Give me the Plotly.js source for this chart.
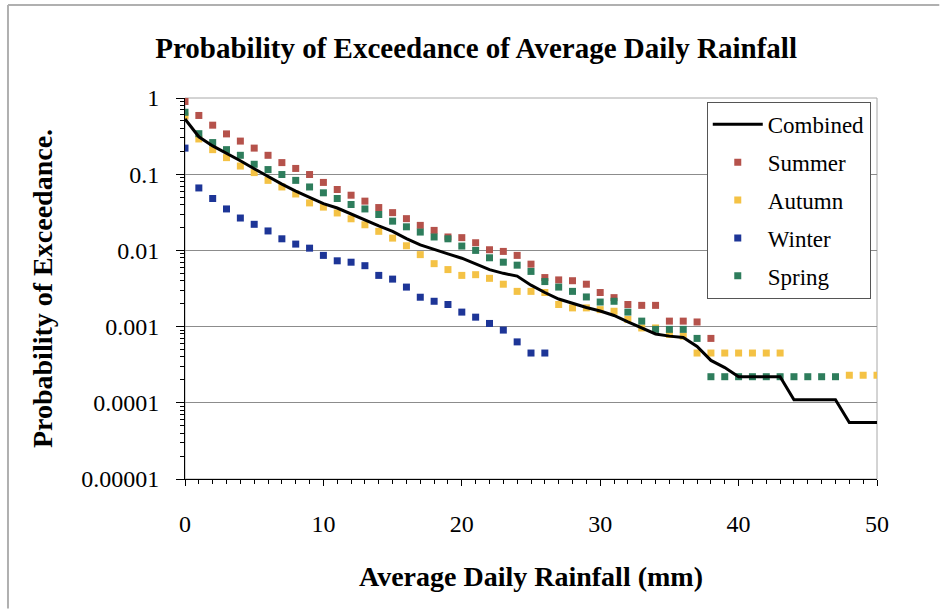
<!DOCTYPE html>
<html>
<head>
<meta charset="utf-8">
<script src="https://cdn.plot.ly/plotly-3.0.1.min.js"></script>
<style>html,body{margin:0;padding:0;background:#fff;}#chart{width:941px;height:612px;}</style>
</head>
<body>
<div id="chart"></div>
<script>
// Average daily rainfall (mm)
var rainfallMm = [0,1,2,3,4,5,6,7,8,9,10,11,12,13,14,15,16,17,18,19,20,21,22,23,24,25,26,27,28,29,30,31,32,33,34,35,36,37,38,39,40,41,42,43,44,45,46,47,48,49,50];

var combinedP = [0.53,0.31,0.235,0.19,0.15,0.118,0.093,0.074,0.06,0.049,0.041,0.036,0.030,0.025,0.021,0.0178,0.0143,0.0118,0.0102,0.0090,0.0079,0.0067,0.0056,0.0050,0.0046,0.0035,0.0028,0.0023,0.0020,0.00178,0.0016,0.0014,0.00115,0.00097,0.0008,0.00075,0.00072,0.00055,0.00036,0.00029,0.00022,0.00022,0.00022,0.00022,0.00011,0.00011,0.00011,0.00011,0.000055,0.000055,0.000055];

var summerP = [0.90,0.59,0.44,0.338,0.272,0.22,0.177,0.142,0.119,0.099,0.078,0.063,0.053,0.0443,0.0365,0.0313,0.0261,0.0213,0.0183,0.0150,0.0147,0.0126,0.0102,0.0097,0.0086,0.0066,0.0044,0.0041,0.0040,0.0036,0.0028,0.0024,0.00195,0.0019,0.0019,0.00118,0.00118,0.00115,0.0007,null,null,null,null,null,null,null,null,null,null,null,null];

var autumnP = [0.58,0.29,0.21,0.165,0.128,0.105,0.083,0.068,0.055,0.042,0.037,0.031,0.026,0.0217,0.0178,0.0145,0.0115,0.0088,0.0067,0.0056,0.0047,0.0048,0.0043,0.0036,0.0029,0.0029,0.0028,0.00195,0.00176,0.00176,0.00167,0.00159,0.00124,0.00096,0.00096,0.00079,0.00075,0.00045,0.00045,0.00045,0.00045,0.00045,0.00045,0.00045,null,null,null,null,0.00023,0.00023,0.00023];

var winterP = [0.22,0.066,0.048,0.035,0.0266,0.022,0.018,0.0142,0.0121,0.0107,0.0086,0.0073,0.0070,0.0063,0.0047,0.0042,0.0033,0.00243,0.00215,0.00195,0.00155,0.00133,0.0011,0.0009,0.00063,0.00045,0.00045,null,null,null,null,null,null,null,null,null,null,null,null,null,null,null,null,null,null,null,null,null,null,null,null];

var springP = [0.65,0.34,0.26,0.21,0.177,0.135,0.115,0.099,0.083,0.068,0.057,0.048,0.040,0.035,0.0296,0.0242,0.0204,0.0174,0.0150,0.0142,0.0114,0.0100,0.0080,0.0070,0.0064,0.0053,0.0039,0.0033,0.0029,0.00245,0.0021,0.00215,0.00155,0.00118,0.00092,0.00092,0.00092,0.0007,0.00022,0.00022,0.00022,0.00022,0.00022,0.00022,0.00022,0.00022,0.00022,0.00022,null,null,null];

var yTickVals = [1,0.1,0.01,0.001,0.0001,0.00001];
var yTickText = ['1','0.1','0.01','0.001','0.0001','0.00001'];
var xTickVals = [0,10,20,30,40,50];

var serif = '"Liberation Serif", "Times New Roman", serif';

function markerTrace(name, ys, color, rank) {
  return {
    type: 'scatter', mode: 'markers', name: name,
    x: rainfallMm, y: ys,
    marker: {symbol: 'square', size: 7, color: color, line: {width: 0}},
    legendgroup: name, legendrank: rank
  };
}

var traces = [
  markerTrace('Summer', summerP, '#b5524b', 2),
  markerTrace('Autumn', autumnP, '#f4c245', 3),
  markerTrace('Winter', winterP, '#1d3597', 4),
  markerTrace('Spring', springP, '#2e7d5c', 5),
  {
    type: 'scatter', mode: 'lines', name: 'Combined',
    x: rainfallMm, y: combinedP,
    line: {color: '#000000', width: 3},
    legendgroup: 'Combined', legendrank: 1
  }
];

var layout = {
  width: 941, height: 612,
  margin: {l: 185, r: 64, t: 98, b: 133},
  paper_bgcolor: '#ffffff', plot_bgcolor: '#ffffff',
  font: {family: serif, color: '#000000'},
  title: {
    text: 'Probability of Exceedance of Average Daily Rainfall',
    font: {family: serif, size: 29, weight: 'bold', color: '#000'},
    xref: 'container', x: 0.506, xanchor: 'center',
    yref: 'container', y: 0.922, yanchor: 'middle'
  },
  xaxis: {
    range: [0, 50], tickvals: xTickVals,
    showgrid: false, zeroline: false,
    showline: true, linecolor: '#000', linewidth: 1,
    ticks: 'outside', ticklen: 6, tickcolor: '#000',
    minor: {dtick: 1, tick0: 0, ticks: 'outside', ticklen: 4, tickcolor: '#000', showgrid: false},
    tickfont: {family: serif, size: 24, color: '#000'},
    ticklabelstandoff: 17,
    title: {text: 'Average Daily Rainfall (mm)', font: {family: serif, size: 28, weight: 'bold', color: '#000'}, standoff: 30},
    automargin: false
  },
  yaxis: {
    type: 'log', range: [-5, 0],
    tickvals: yTickVals, ticktext: yTickText,
    showgrid: true, gridcolor: '#8c8c8c', gridwidth: 1,
    zeroline: false,
    showline: true, linecolor: '#000', linewidth: 1,
    ticks: 'outside', ticklen: 8, tickcolor: '#000',
    minor: {dtick: 'D1', ticks: 'outside', ticklen: 4, tickcolor: '#000', showgrid: false},
    tickfont: {family: serif, size: 24, color: '#000'},
    ticklabelstandoff: 12,
    title: {text: 'Probability of Exceedance.', font: {family: serif, size: 28, weight: 'bold', color: '#000'}, standoff: 20},
    automargin: false
  },
  legend: {
    x: 0.754, xanchor: 'left', y: 0.99, yanchor: 'top',
    bgcolor: '#ffffff', bordercolor: '#555555', borderwidth: 1,
    font: {family: serif, size: 23, color: '#000'},
    itemwidth: 50, tracegroupgap: 5, traceorder: 'grouped'
  },
  shapes: [
    {type: 'rect', xref: 'paper', yref: 'paper', x0: 0, x1: 1, y0: 0, y1: 1, line: {color: '#a8a8a8', width: 1}, layer: 'below'},
    {type: 'line', xref: 'paper', yref: 'paper', x0: -0.2558, x1: 1.09, y0: 1.2441, y1: 1.2441, line: {color: '#b0b0b0', width: 2}},
    {type: 'line', xref: 'paper', yref: 'paper', x0: -0.2558, x1: -0.2558, y0: 1.2441, y1: -0.34, line: {color: '#b0b0b0', width: 2}}
  ],
  showlegend: true
};

Plotly.newPlot('chart', traces, layout, {displayModeBar: false, staticPlot: true});
</script>
</body>
</html>
